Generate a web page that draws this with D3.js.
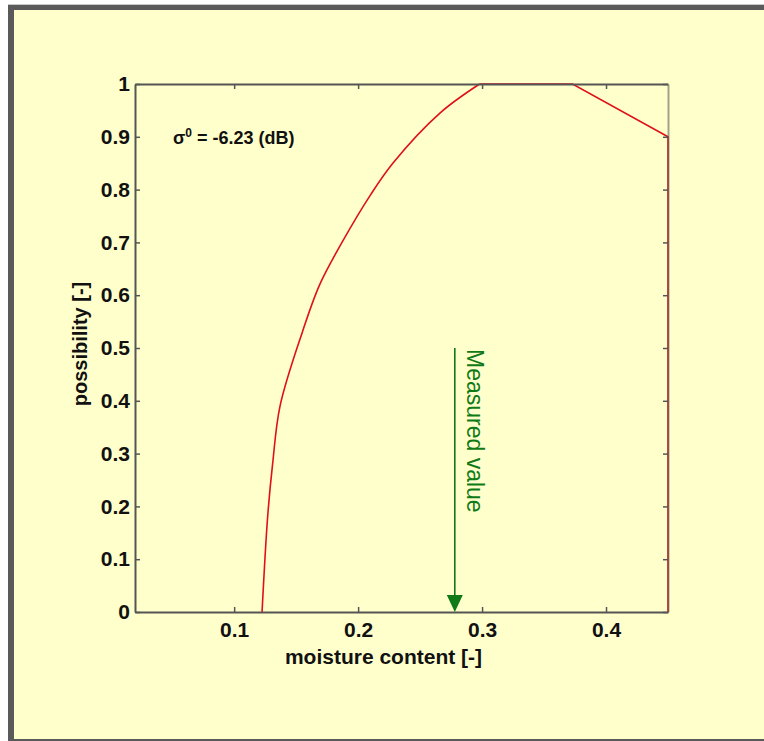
<!DOCTYPE html>
<html>
<head>
<meta charset="utf-8">
<script src="https://cdn.jsdelivr.net/npm/d3@7"></script>
<style>
  body { margin: 0; background: #fff; }
  text { font-family: "Liberation Sans", Arial, Helvetica, sans-serif; }
</style>
</head>
<body>
<div id="chart"></div>
<script>
// Dữ liệu
const moisture    = [0.1225, 0.127, 0.131, 0.137, 0.155, 0.169, 0.187, 0.21, 0.228, 0.266, 0.298, 0.373, 0.45, 0.45];
const possibility = [0, 0.18, 0.28, 0.39, 0.53, 0.62, 0.70, 0.79, 0.85, 0.945, 1, 1, 0.9, 0];
const xTicks = [0.1, 0.2, 0.3, 0.4];
const yTicks = [0, 0.1, 0.2, 0.3, 0.4, 0.5, 0.6, 0.7, 0.8, 0.9, 1];
const measured = 0.278;       // mũi tên giá trị đo
const measuredTop = 0.5;
const sigmaText = "-6.23 (dB)";

const W = 764, H = 741;
const margin = { top: 84, right: 96, bottom: 129, left: 135 },
      width = W - margin.left - margin.right,
      height = H - margin.top - margin.bottom;

const root = d3.select("#chart").append("svg")
  .attr("width", W).attr("height", H);

// Nền vàng và khung xám (không có cạnh phải)
root.append("rect").attr("x", 8).attr("y", 4).attr("width", W + 20).attr("height", H).attr("fill", "#c8c8c8");
root.append("rect").attr("x", 8).attr("y", 5).attr("width", W + 20).attr("height", H).attr("fill", "#5a5a5a");
root.append("rect").attr("x", 14).attr("y", 10).attr("width", W + 20).attr("height", H - 12).attr("fill", "#ffffcc");

const svg = root.append("g").attr("transform", `translate(${margin.left},${margin.top})`);

const x = d3.scaleLinear().domain([0.02, 0.45]).range([0, width]);
const y = d3.scaleLinear().domain([0, 1]).range([height, 0]);

const axisColor = "#555";
function styleAxis(g) {
  g.select(".domain").attr("stroke", axisColor).attr("stroke-width", 2);
  g.selectAll(".tick line").attr("stroke", axisColor).attr("stroke-width", 1.5);
  g.selectAll(".tick text")
    .attr("fill", "#111")
    .style("font-size", "21px")
    .style("font-weight", "bold");
}

// Trục dưới và trái
svg.append("g")
  .attr("transform", `translate(0,${height})`)
  .call(d3.axisBottom(x).tickValues(xTicks).tickSize(-5).tickSizeOuter(0).tickPadding(10).tickFormat(d => d))
  .call(styleAxis);

svg.append("g")
  .call(d3.axisLeft(y).tickValues(yTicks).tickSize(-5).tickSizeOuter(0).tickPadding(5).tickFormat(d => d))
  .call(styleAxis);

// Đường khả năng (màu đỏ): phần cong mượt + phần thẳng
const pts = moisture.map((m, i) => [x(m), y(possibility[i])]);
const red = "#e0101a";
svg.append("path")
  .attr("d", d3.line().curve(d3.curveCatmullRom.alpha(0.5))(pts.slice(0, 11)))
  .attr("fill", "none").attr("stroke", red).attr("stroke-width", 1.6);
svg.append("path")
  .attr("d", d3.line()(pts.slice(10)))
  .attr("fill", "none").attr("stroke", red).attr("stroke-width", 1.6);

// Trục trên và phải (không nhãn)
svg.append("g")
  .call(d3.axisTop(x).tickValues(xTicks).tickSize(-5).tickSizeOuter(0).tickFormat(""))
  .call(styleAxis);

svg.append("g")
  .attr("transform", `translate(${width},0)`)
  .call(d3.axisRight(y).tickValues(yTicks).tickSize(-5).tickSizeOuter(0).tickFormat(""))
  .call(styleAxis)
  .call(g => g.select(".domain").attr("stroke-opacity", 0.55));

// Mũi tên giá trị đo
const green = "#0f7a16";
svg.append("line")
  .attr("x1", x(measured)).attr("x2", x(measured))
  .attr("y1", y(measuredTop)).attr("y2", y(0) - 14)
  .attr("stroke", green).attr("stroke-width", 1.6);
svg.append("path")
  .attr("d", `M${x(measured) - 8},${y(0) - 17} L${x(measured) + 8},${y(0) - 17} L${x(measured)},${y(0)} Z`)
  .attr("fill", green);

svg.append("text")
  .attr("transform", `translate(${x(measured) + 12},${y(measuredTop) + 1}) rotate(90)`)
  .attr("text-anchor", "start")
  .attr("fill", green)
  .style("font-size", "23px")
  .text("Measured value");

// Chú thích sigma
const ann = svg.append("text")
  .attr("x", 38).attr("y", y(0.9) + 7)
  .attr("fill", "#111")
  .style("font-size", "18px")
  .style("font-weight", "bold");
ann.append("tspan").text("σ");
ann.append("tspan").attr("dy", -7).style("font-size", "12px").text("0");
ann.append("tspan").attr("dy", 7).text(" = " + sigmaText);

// Nhãn trục
svg.append("text")
  .attr("x", width / 2 - 18).attr("y", height + 52)
  .attr("text-anchor", "middle")
  .attr("fill", "#111")
  .style("font-size", "21px")
  .style("font-weight", "bold")
  .text("moisture content [-]");

svg.append("text")
  .attr("transform", `translate(-48,${height / 2 - 4}) rotate(-90)`)
  .attr("text-anchor", "middle")
  .attr("fill", "#111")
  .style("font-size", "20px")
  .style("font-weight", "bold")
  .text("possibility [-]");
</script>
</body>
</html>
